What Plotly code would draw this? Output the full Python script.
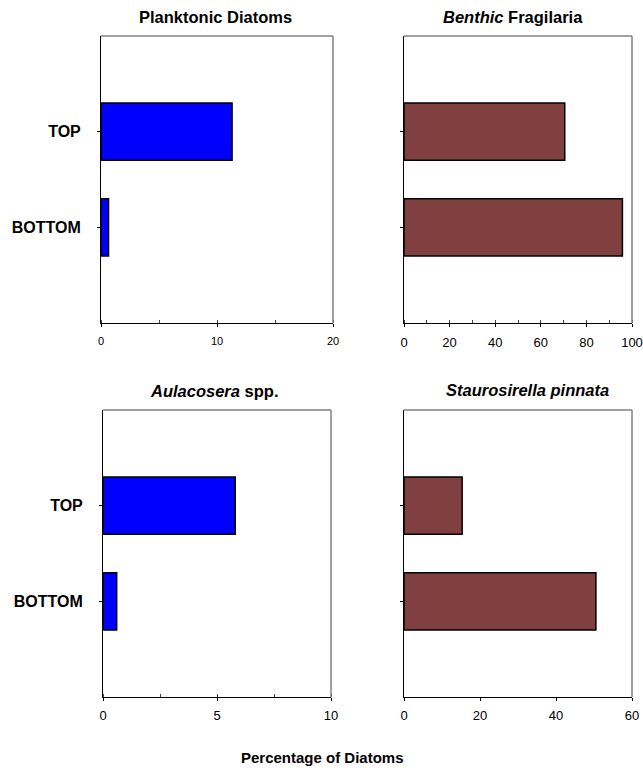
import plotly.graph_objects as go

categories = ["BOTTOM", "TOP"]
planktonic = [0.65, 11.3]
benthic = [95.8, 70.5]
aulacosera = [0.6, 5.8]
staurosirella = [50.5, 15.3]

titles = ["<b>Planktonic Diatoms</b>", "<b><i>Benthic</i> Fragilaria</b>",
          "<b><i>Aulacosera</i> spp.</b>", "<b><i>Staurosirella pinnata</i></b>"]
xaxis_title = "<b>Percentage of Diatoms</b>"

W, H = 643, 768
FONT = "Liberation Sans, Arial, sans-serif"
BLUE = "#0000FF"
BROWN = "#804040"

panels = [
    dict(vals=planktonic, color=BLUE, px=(101, 333), py=(36, 323), rng=[0, 20], dtick=10, minor=5, tfs=11, so=5, labels=True),
    dict(vals=benthic, color=BROWN, px=(404, 632), py=(36, 323), rng=[0, 100], dtick=20, minor=10, tfs=13, so=4, labels=False),
    dict(vals=aulacosera, color=BLUE, px=(103, 331), py=(410, 697), rng=[0, 10], dtick=5, minor=2.5, tfs=13, so=3, labels=True),
    dict(vals=staurosirella, color=BROWN, px=(404, 632), py=(410, 697), rng=[0, 60], dtick=20, minor=None, tfs=13, so=3, labels=False),
]

fig = go.Figure()
shapes = []
annotations = []
for i, p in enumerate(panels):
    n = "" if i == 0 else str(i + 1)
    xa, ya = "x" + n, "y" + n
    fig.add_trace(go.Bar(x=p["vals"], y=categories, orientation="h",
                         marker=dict(color=p["color"], line=dict(color="black", width=1.5)),
                         width=0.6, xaxis=xa, yaxis=ya, showlegend=False, hoverinfo="skip"))
    xd = [p["px"][0] / W, p["px"][1] / W]
    yd = [1 - p["py"][1] / H, 1 - p["py"][0] / H]
    xaxis = dict(domain=xd, range=p["rng"], dtick=p["dtick"], tick0=0, anchor=ya, automargin=False,
                 showgrid=False, zeroline=False, showline=True, linecolor="black", linewidth=1,
                 ticks="outside", ticklen=3, tickcolor="black", ticklabelstandoff=p["so"],
                 tickfont=dict(family=FONT, size=p["tfs"], color="black"), fixedrange=True)
    if p["minor"]:
        xaxis["minor"] = dict(dtick=p["minor"], tick0=0, ticks="inside", ticklen=3, tickcolor="#404040", showgrid=False)
    yaxis = dict(domain=yd, range=[-1, 2], anchor=xa, type="category", automargin=False,
                 categoryorder="array", categoryarray=categories,
                 tickmode="array", tickvals=categories, ticktext=["<b>" + c + "</b>" for c in categories],
                 showgrid=False, zeroline=False, showline=True, linecolor="black", linewidth=1,
                 ticks="outside", ticklen=3, tickcolor="black",
                 showticklabels=p["labels"], ticklabelstandoff=13,
                 tickfont=dict(family=FONT, size=16, color="black"), fixedrange=True)
    fig.update_layout(**{"xaxis" + n: xaxis, "yaxis" + n: yaxis})
    shapes.append(dict(type="line", xref=xa + " domain", yref=ya + " domain", x0=0, x1=1, y0=1, y1=1,
                       line=dict(color="#808080", width=1.5)))
    shapes.append(dict(type="line", xref=xa + " domain", yref=ya + " domain", x0=1, x1=1, y0=0, y1=1,
                       line=dict(color="#808080", width=1.5)))

title_pos = [(215.5, 17), (513, 17), (214, 391), (527.5, 390)]
for t, (tx, ty) in zip(titles, title_pos):
    annotations.append(dict(text=t, x=tx / W, y=1 - ty / H, xref="paper", yref="paper",
                            xanchor="center", yanchor="middle", showarrow=False,
                            font=dict(family=FONT, size=16.5, color="black")))
annotations.append(dict(text=xaxis_title, x=322 / W, y=1 - 757 / H, xref="paper", yref="paper",
                        xanchor="center", yanchor="middle", showarrow=False,
                        font=dict(family=FONT, size=15, color="black")))

fig.update_layout(width=W, height=H, margin=dict(l=0, r=0, t=0, b=0, autoexpand=False),
                  paper_bgcolor="white", plot_bgcolor="white", hovermode=False,
                  shapes=shapes, annotations=annotations, bargap=0.4)
fig.write_html("out.html", config={"displayModeBar": False, "staticPlot": True},
               post_script="document.body.style.margin='0px';document.body.style.overflow='hidden';")
